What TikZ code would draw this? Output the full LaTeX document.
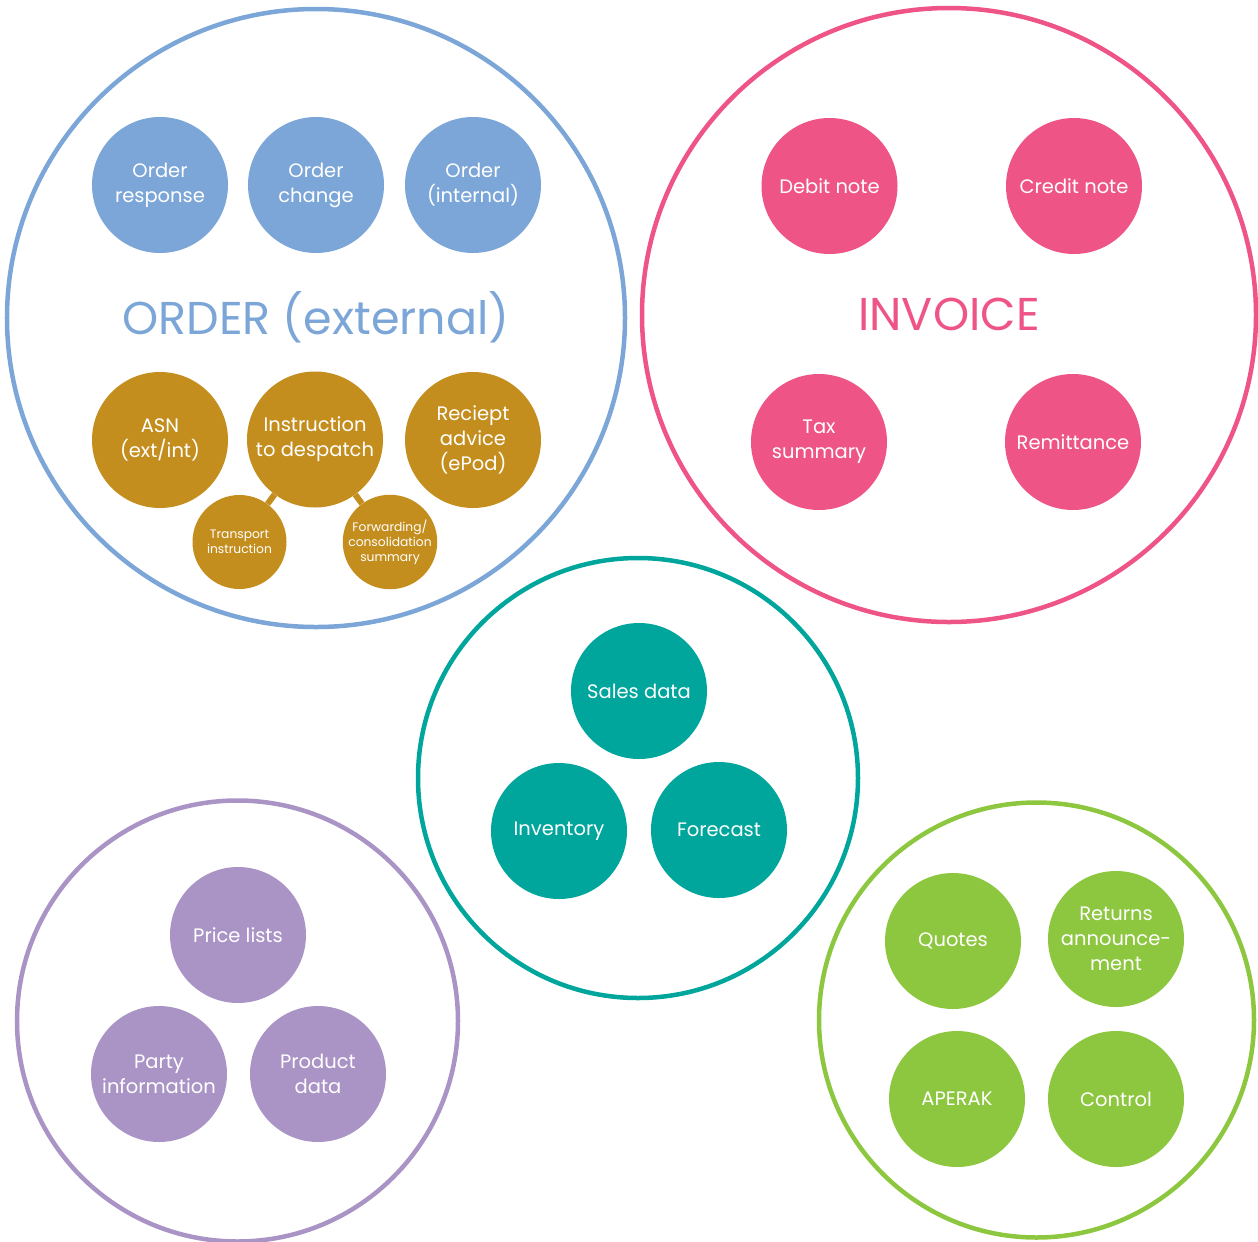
\documentclass[tikz,border=0pt]{standalone}
\usepackage{fontspec}
\setmainfont{Poppins}
\definecolor{cblue}{HTML}{7BA6D7}
\definecolor{cpink}{HTML}{EE5586}
\definecolor{cgold}{HTML}{C48E1E}
\definecolor{cteal}{HTML}{00A59C}
\definecolor{cpurple}{HTML}{AA94C6}
\definecolor{cgreen}{HTML}{8DC63F}
\tikzset{
  ring/.style={circle, draw=#1, line width=4.5bp, inner sep=0pt},
  bub/.style={circle, fill=#1, text=white, minimum size=136bp, inner sep=0pt, align=center,
    font=\fontsize{19.5bp}{25bp}\selectfont},
  smallbub/.style={circle, fill=#1, text=white, minimum size=94bp, inner sep=0pt, align=center,
    font=\fontsize{12.3bp}{15bp}\selectfont},
  title/.style={text=#1, font=\fontsize{46bp}{52bp}\selectfont, inner sep=0pt},
  link/.style={draw=cgold, line width=6bp}
}
\begin{document}
\begin{tikzpicture}[x=1bp, y=-1bp]
\useasboundingbox (0,0) rectangle (1258,1242);
% big rings
\node[ring=cblue, minimum size=618bp] (order) at (316,318) {};
\node[ring=cpink, minimum size=614bp] (invoice) at (949,315) {};
\node[ring=cteal, minimum size=440bp] (mid) at (638,778) {};
\node[ring=cpurple, minimum size=441bp] (purp) at (237.5,1021) {};
\node[ring=cgreen, minimum size=435bp] (green) at (1036.5,1020) {};
% titles
\node[title=cblue] (ordertitle) at (316,317) {ORDER (external)};
\node[title=cpink] (invtitle) at (949,314) {INVOICE};
% order
\node[bub=cblue] (oresp) at (160,185) {Order\\response};
\node[bub=cblue] (ochange) at (316,185) {Order\\change};
\node[bub=cblue] (ointernal) at (473,185) {Order\\(internal)};
\node[smallbub=cgold] (transport) at (239.5,542) {Transport\\instruction};
\node[smallbub=cgold] (forward) at (390,542) {Forwarding/\\consolidation\\summary};
\node[bub=cgold] (instr) at (315,439.5) {Instruction\\to despatch};
\draw[link] (instr) -- (transport);
\draw[link] (instr) -- (forward);
\node[bub=cgold] (asn) at (160,440) {ASN\\(ext/int)};
\node[bub=cgold] (receipt) at (473,440) {Reciept\\advice\\(ePod)};
% invoice
\node[bub=cpink] (debit) at (829.5,186) {Debit note};
\node[bub=cpink] (credit) at (1074,186) {Credit note};
\node[bub=cpink] (tax) at (819,442) {Tax\\summary};
\node[bub=cpink] (remit) at (1073,442) {Remittance};
% teal
\node[bub=cteal] (sales) at (639,691) {Sales data};
\node[bub=cteal] (inventory) at (559,831) {Inventory};
\node[bub=cteal] (forecast) at (719,830) {Forecast};
% purple
\node[bub=cpurple] (price) at (238,935) {Price lists};
\node[bub=cpurple] (party) at (159,1074) {Party\\information};
\node[bub=cpurple] (product) at (318,1074) {Product\\data};
% green
\node[bub=cgreen] (quotes) at (953,941) {Quotes};
\node[bub=cgreen] (returns) at (1116,939) {Returns\\announce-\\ment};
\node[bub=cgreen] (aperak) at (957,1099) {APERAK};
\node[bub=cgreen] (control) at (1116,1099) {Control};
\end{tikzpicture}
\end{document}
